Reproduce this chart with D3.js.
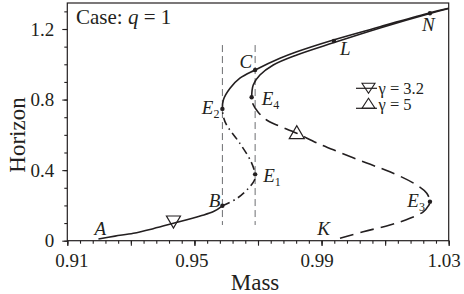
<!DOCTYPE html>
<html><head><meta charset="utf-8">
<script src="https://cdn.jsdelivr.net/npm/d3@7"></script>
<style>
body{margin:0;background:#fff}
svg{display:block}
text{font-family:"Liberation Serif","Times New Roman",serif;fill:#231f20}
</style>
</head><body>
<script>
// gamma = 3.2 branch
var lowMass  = [0.9198, 0.9250, 0.9308, 0.9370, 0.9434, 0.9518, 0.9560, 0.9588];
var lowHor   = [0.010, 0.026, 0.042, 0.068, 0.0986, 0.140, 0.165, 0.198];
var midMass  = [0.9588, 0.9634, 0.9670, 0.9689, 0.9691, 0.9678, 0.9643, 0.9601, 0.9591, 0.9588];
var midHor   = [0.198, 0.240, 0.297, 0.344, 0.376, 0.448, 0.552, 0.656, 0.703, 0.747];
var upMass   = [0.9588, 0.9591, 0.9612, 0.9643, 0.9691, 0.9769, 0.9822, 0.9937, 1.0084, 1.0241, 1.0300];
var upHor    = [0.747, 0.798, 0.864, 0.921, 0.968, 1.034, 1.071, 1.138, 1.213, 1.2925, 1.3175];
// gamma = 5 branch
var unstMass = [0.9958, 1.0031, 1.0115, 1.0178, 1.0220, 1.0236, 1.0241, 1.0231, 1.0199, 1.0115, 1.0042, 0.9958, 0.9885, 0.9822, 0.9759, 0.9727, 0.9700, 0.9684, 0.9680];
var unstHor  = [0.0136, 0.051, 0.089, 0.127, 0.164, 0.197, 0.221, 0.269, 0.316, 0.391, 0.440, 0.500, 0.554, 0.609, 0.656, 0.684, 0.730, 0.775, 0.813];
var stabMass = [0.9680, 0.9685, 0.9706, 0.9748, 0.9822, 0.9937, 1.0084, 1.0241, 1.0300];
var stabHor  = [0.813, 0.883, 0.939, 0.996, 1.053, 1.122, 1.206, 1.288, 1.316];

var critMass = [0.9588, 0.9691];
var critHor  = [0.089, 1.109];

var ptNames = ['B', 'E1', 'E2', 'C', 'E4', 'L', 'N', 'E3'];
var ptMass  = [0.9588, 0.9691, 0.9588, 0.9691, 0.9680, 0.9939, 1.0241, 1.0241];
var ptHor   = [0.198, 0.376, 0.747, 0.968, 0.813, 1.132, 1.289, 0.221];

var downTri = [0.9434, 0.106];
var upTri   = [0.9822, 0.615];

var xTickLabels = [0.91, 0.95, 0.99, 1.03];
var yTickLabels = [0, 0.4, 0.8, 1.2];

var W = 464, H = 294;
var m = {l: 67.3, r: 15.3, t: 3, b: 53.3};

var svg = d3.select('body').append('svg').attr('width', W).attr('height', H);

var x = d3.scaleLinear().domain([0.91, 1.03]).range([m.l, W - m.r]);
var y = d3.scaleLinear().domain([0, 1.3474]).range([H - m.b, m.t]);

var zip = function(a, b){ return a.map(function(v, i){ return [v, b[i]]; }); };
var line = d3.line().x(function(d){return x(d[0]);}).y(function(d){return y(d[1]);})
             .curve(d3.curveCatmullRom.alpha(0.5));

// dashed critical mass lines
svg.selectAll('line.crit').data(critMass).enter().append('line')
   .attr('class', 'crit')
   .attr('x1', function(d){return x(d);}).attr('x2', function(d){return x(d);})
   .attr('y1', y(critHor[1])).attr('y2', y(critHor[0]))
   .attr('stroke', '#6d6e71').attr('stroke-width', 1).attr('stroke-dasharray', '7,4');

var curves = [
  {d: zip(lowMass, lowHor), dash: null},
  {d: zip(midMass, midHor), dash: '8,4,1.5,4'},
  {d: zip(upMass, upHor), dash: null},
  {d: zip(unstMass, unstHor), dash: '14,7'},
  {d: zip(stabMass, stabHor), dash: null}
];
svg.selectAll('path.curve').data(curves).enter().append('path')
   .attr('class', 'curve')
   .attr('d', function(c){return line(c.d);})
   .attr('fill', 'none').attr('stroke', '#231f20').attr('stroke-width', 1.6)
   .attr('stroke-dasharray', function(c){return c.dash;});

// points
svg.selectAll('circle.pt').data(zip(ptMass, ptHor)).enter().append('circle')
   .attr('class', 'pt')
   .attr('cx', function(d){return x(d[0]);}).attr('cy', function(d){return y(d[1]);})
   .attr('r', 2.2).attr('fill', '#231f20');

var triPath = function(cx, cy, w, h, down){
  if (down) return 'M' + (cx - w/2) + ',' + (cy - h/2) + 'L' + (cx + w/2) + ',' + (cy - h/2) + 'L' + cx + ',' + (cy + h/2) + 'Z';
  return 'M' + (cx - w/2) + ',' + (cy + h/2) + 'L' + (cx + w/2) + ',' + (cy + h/2) + 'L' + cx + ',' + (cy - h/2) + 'Z';
};
svg.append('path').attr('d', triPath(x(downTri[0]), y(downTri[1]), 14, 12, true))
   .attr('fill', 'none').attr('stroke', '#231f20').attr('stroke-width', 1.2);
svg.append('path').attr('d', triPath(x(upTri[0]), y(upTri[1]), 15, 13, false))
   .attr('fill', 'none').attr('stroke', '#231f20').attr('stroke-width', 1.2);

// point labels
var labelPos = {
  'A':  {at: [lowMass[0], lowHor[0]], dx: -4, dy: -4, anchor: 'start'},
  'K':  {at: [unstMass[0], unstHor[0]], dx: -10, dy: -3, anchor: 'end'},
  'B':  {dx: -2, dy: 1, anchor: 'end'},
  'E1': {dx: 8, dy: 7.5, anchor: 'start'},
  'E2': {dx: -3, dy: 5, anchor: 'end'},
  'C':  {dx: -3, dy: -2, anchor: 'end'},
  'E4': {dx: 10, dy: 8, anchor: 'start'},
  'L':  {dx: 6, dy: 14, anchor: 'start'},
  'N':  {dx: -8, dy: 18, anchor: 'start'},
  'E3': {dx: -5, dy: 5, anchor: 'end'}
};
var allNames = ['A', 'K'].concat(ptNames);
allNames.forEach(function(n){
  var p = labelPos[n];
  var at = p.at || [ptMass[ptNames.indexOf(n)], ptHor[ptNames.indexOf(n)]];
  var t = svg.append('text')
     .attr('x', x(at[0]) + p.dx).attr('y', y(at[1]) + p.dy)
     .attr('text-anchor', p.anchor).style('font-size', '19px');
  t.append('tspan').style('font-style', 'italic').text(n[0]);
  if (n.length > 1) t.append('tspan').attr('dy', 4).style('font-size', '12px').text(n.slice(1));
});

// axes
var xMinor = d3.range(0, 31).map(function(i){return +(0.91 + i*0.004).toFixed(3);});
var xMajor = d3.range(0, 7).map(function(i){return +(0.91 + i*0.02).toFixed(3);});
var yMinor = d3.range(0, 14).map(function(i){return +(i*0.1).toFixed(1);});

var gx1 = svg.append('g').attr('transform', 'translate(0,' + (H - m.b) + ')')
   .call(d3.axisBottom(x).tickValues(xMinor).tickSize(3).tickFormat(''));
var gx2 = svg.append('g').attr('transform', 'translate(0,' + (H - m.b) + ')')
   .call(d3.axisBottom(x).tickValues(xMajor).tickSize(5).tickFormat(''));
var gx3 = svg.append('g').attr('transform', 'translate(0,' + (H - m.b) + ')')
   .call(d3.axisBottom(x).tickValues(xTickLabels).tickSize(5).tickPadding(8)
         .tickFormat(function(d){return d3.format('.2f')(d);}));
var gy1 = svg.append('g').attr('transform', 'translate(' + m.l + ',0)')
   .call(d3.axisLeft(y).tickValues(yMinor).tickSize(3).tickFormat(''));
var gy2 = svg.append('g').attr('transform', 'translate(' + m.l + ',0)')
   .call(d3.axisLeft(y).tickValues(yTickLabels).tickSize(5).tickPadding(8)
         .tickFormat(function(d){return d === 0 ? '0' : d3.format('.1f')(d);}));
[gx1, gx2, gx3, gy1, gy2].forEach(function(g){
  g.select('.domain').remove();
  g.selectAll('line').attr('stroke', '#231f20').attr('stroke-width', 1.1);
  g.selectAll('text').style('font-size', '19px').attr('fill', '#231f20')
   .style('font-family', '"Liberation Serif","Times New Roman",serif');
});
// nudge x tick labels the way the reference sets them
var xLabelShift = [4, -3, -5, -5];
gx3.selectAll('.tick text').attr('dx', function(d, i){return xLabelShift[i];});

// frame
svg.append('rect').attr('x', m.l).attr('y', m.t)
   .attr('width', W - m.l - m.r).attr('height', H - m.t - m.b)
   .attr('fill', 'none').attr('stroke', '#231f20').attr('stroke-width', 1.2);

// axis titles
svg.append('text').attr('x', (m.l + W - m.r)/2 - 3).attr('y', 290)
   .attr('text-anchor', 'middle').style('font-size', '23px').text('Mass');
svg.append('text').attr('transform', 'translate(25,' + 135 + ') rotate(-90)')
   .attr('text-anchor', 'middle').style('font-size', '23px').text('Horizon');

// case label
var ct = svg.append('text').attr('x', 76).attr('y', 24).style('font-size', '21px');
ct.append('tspan').text('Case: ');
ct.append('tspan').style('font-style', 'italic').text('q');
ct.append('tspan').text(' = 1');

// legend
var legend = [{label: '\u03b3 = 3.2', down: true, ly: 88.3, ty: 94},
              {label: '\u03b3 = 5', down: false, ly: 108.3, ty: 110}];
legend.forEach(function(l){
  svg.append('line').attr('x1', 356).attr('x2', 377).attr('y1', l.ly).attr('y2', l.ly)
     .attr('stroke', '#231f20').attr('stroke-width', 1.2);
  svg.append('path').attr('d', l.down ? triPath(368.5, l.ly, 13, 10, true) : triPath(368.5, l.ly - 5, 13, 10, false))
     .attr('fill', 'none').attr('stroke', '#231f20').attr('stroke-width', 1.1);
  svg.append('text').attr('x', 378.5).attr('y', l.ty).style('font-size', '16.5px').text(l.label);
});
</script>
</body></html>
